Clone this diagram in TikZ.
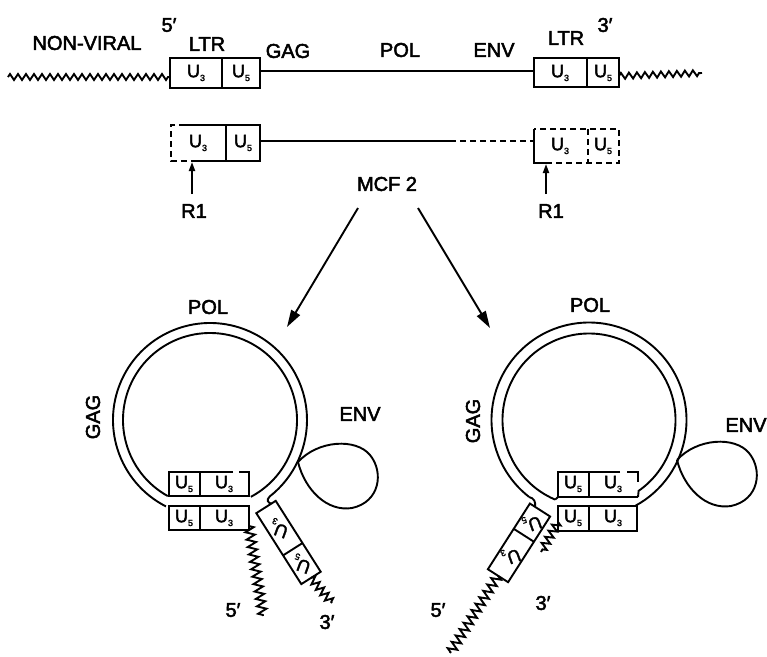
\documentclass[tikz,border=0pt]{standalone}
\usepackage{fontspec}
\setmainfont{Liberation Sans}
\newfontfamily\lblfont{Liberation Sans}[FakeBold=2.5]
\newfontfamily\ufont{Liberation Sans}[FakeBold=2]
\usetikzlibrary{decorations.pathmorphing,arrows.meta}
\newcommand\usub[1]{\raisebox{-0.4ex}{\fontsize{9}{9}\selectfont #1}}
\begin{document}
\begin{tikzpicture}[x=1pt,y=-1pt,line width=1.9pt,line join=miter,
  wavy/.style={decorate,decoration={zigzag,segment length=8pt,amplitude=3pt}},
  wavyb/.style={decorate,decoration={zigzag,segment length=7.5pt,amplitude=4.5pt}},
  big/.style={font=\lblfont\fontsize{20}{24}\selectfont,inner sep=0pt},
  ulab/.style={font=\ufont\fontsize{18}{20}\selectfont,inner sep=0pt},
  dsh/.style={dash pattern=on 6pt off 4pt},
  bigarrow/.style={-{Triangle[length=17pt,width=10pt]}},
  smallarrow/.style={-{Triangle[length=9pt,width=6pt]}}]
\useasboundingbox (0,0) rectangle (767,656);

% ---------- top row ----------
\node[big] (nonviral) at (87,43) {NON-VIRAL};
\node[big] (fivea) at (169,25) {5′};
\node[big] (ltra) at (207,44) {LTR};
\node[big] (gaga) at (288,51) {GAG};
\node[big] (pola) at (400,50) {POL};
\node[big] (enva) at (494,50) {ENV};
\node[big] (ltrb) at (566,38) {LTR};
\node[big] (threea) at (605,25) {3′};

\coordinate (wl0) at (8,77); \coordinate (wl1) at (170,77);
\draw[wavy] (wl0) -- (wl1);
\draw (170,58) rectangle (260,88); \draw (222,58) -- (222,88);
\node[ulab] (ta3) at (196,73) {U\usub{3}};
\node[ulab] (ta5) at (241,73) {U\usub{5}};
\coordinate (la) at (260,71); \coordinate (lb) at (534,71);
\draw (la) -- (lb);
\draw (534,58) rectangle (619,87); \draw (587,58) -- (587,87);
\node[ulab] (tb3) at (560,73) {U\usub{3}};
\node[ulab] (tb5) at (603,73) {U\usub{5}};
\coordinate (wr0) at (619,76); \coordinate (wr1) at (702,73);
\draw[wavy] (wr0) -- (wr1);

% ---------- second row ----------
\draw (185,125) -- (260,125) -- (260,161) -- (191,161);
\draw[dsh] (185,125) -- (171,125) -- (171,161) -- (191,161);
\draw (226,125) -- (226,161);
\node[ulab] (sa3) at (198,143) {U\usub{3}};
\node[ulab] (sa5) at (243,143) {U\usub{5}};
\coordinate (ma) at (260,141); \coordinate (mb) at (450,141); \coordinate (mc) at (534,141);
\draw (ma) -- (mb);
\draw[dsh] (mb) -- (mc);
\draw (534,129) -- (534,163) -- (546,163);
\draw[dsh] (546,163) -- (619,163) -- (619,129) -- (534,129);
\draw[dsh] (588,129) -- (588,163);
\node[ulab] (sb3) at (560,146) {U\usub{3}};
\node[ulab] (sb5) at (603,146) {U\usub{5}};

\node[big] (r1a) at (194,211) {R1};
\node[big] (r1b) at (551,211) {R1};
\coordinate (r1at) at (192,162);
\coordinate (r1bt) at (546,164);
\draw[smallarrow] ([yshift=9pt]r1a.north -| r1at) -- (r1at);
\draw[smallarrow] ([yshift=9pt]r1b.north -| r1bt) -- (r1bt);

\node[big] (mcf) at (387,184) {MCF 2};
\coordinate (a1s) at (358,208); \coordinate (a1e) at (287,327);
\coordinate (a2s) at (418,208); \coordinate (a2e) at (490,328);
\draw[bigarrow] (a1s) -- (a1e);
\draw[bigarrow] (a2s) -- (a2e);

% ---------- left circle ----------
\coordinate (c1) at (210,420);
\node[big] (polb) at (208,307) {POL};
\node[big,rotate=90] (gagb) at (93,417) {GAG};
\node[big] (envb) at (360,414) {ENV};
\node[big] (fiveb) at (233,610) {5′};
\node[big] (threeb) at (327,622) {3′};

\draw (c1) ++(119:87) arc[start angle=119,end angle=422,radius=87];
\draw (c1) ++(117:97) arc[start angle=117,end angle=412,radius=97]
  .. controls (266,500) and (268,503) .. (271.5,503.7);
% upper box (inner strand)
\draw (233,472) -- (169,472) -- (169,496) -- (249,496) -- (249,472) -- (239,472);
\draw (200,472) -- (200,496);
\node[ulab] (ua5) at (184,484) {U\usub{5}};
\node[ulab] (ua3) at (224,484) {U\usub{3}};
% lower box
\draw (169,506) rectangle (249,530); \draw (200,506) -- (200,530);
\node[ulab] (va5) at (184,518) {U\usub{5}};
\node[ulab] (va3) at (224,518) {U\usub{3}};
\coordinate (t5a) at (249,526); \coordinate (t5b) at (263,616);
\draw[wavyb] (t5a) -- (t5b);
% rotated box
\begin{scope}[shift={(266,507)},rotate=-57.6]
  \draw (0,-11.5) rectangle (84,11.5);
  \draw (50,-11.5) -- (50,11.5);
  \node[ulab,rotate=160] (ra3) at (25,0) {U\usub{3}};
  \node[ulab,rotate=160] (ra5) at (67,0) {U\usub{5}};
  \coordinate (raend) at (84,0);
\end{scope}
\coordinate (t3a) at (332,603);
\draw[decorate,decoration={zigzag,segment length=7pt,amplitude=4pt}] (raend) -- (t3a);
% ENV loop
\draw (298,462) .. controls (318,440) and (356,438) .. (370,455)
  .. controls (384,472) and (380,502) .. (352,508)
  .. controls (327,512) and (305,490) .. (298,462);

% ---------- right circle ----------
\coordinate (c2) at (589,420);
\node[big] (polc) at (590,305) {POL};
\node[big,rotate=90] (gagc) at (473,421) {GAG};
\node[big] (envc) at (746,425) {ENV};
\node[big] (fivec) at (438,610) {5′};
\node[big] (threec) at (543,603) {3′};

\draw (c2) ++(113:86.5) arc[start angle=113,end angle=415,radius=86.5] -- (638,497);
\draw (558,497) -- ++(-2.8,2.6);
\draw (c2) ++(128:97.5) arc[start angle=128,end angle=421.5,radius=97.5];
\draw (529,497) .. controls (534,498) and (536,502) .. (535,506.8);
% upper box
\draw (620,472) -- (558,472) -- (558,497) -- (638,497);
\draw (627,472) -- (638,472) -- (638,482);
\draw (589,472) -- (589,497);
\node[ulab] (uc5) at (573,484) {U\usub{5}};
\node[ulab] (uc3) at (613,484) {U\usub{3}};
% lower box
\draw (558,506) rectangle (637,531); \draw (589,506) -- (589,531);
\node[ulab] (vc5) at (573,518) {U\usub{5}};
\node[ulab] (vc3) at (613,518) {U\usub{3}};
\coordinate (t3c) at (558,522); \coordinate (t3d) at (541,552);
\draw[decorate,decoration={zigzag,segment length=7pt,amplitude=4pt}] (t3c) -- (t3d);
% rotated box
\begin{scope}[shift={(540,510)},rotate=-122.6]
  \draw (0,-12) rectangle (78,12);
  \draw (30,-12) -- (30,12);
  \node[ulab,rotate=200] (rc5) at (15,0) {U\usub{5}};
  \node[ulab,rotate=200] (rc3) at (54,0) {U\usub{3}};
  \coordinate (rcend) at (78,0);
\end{scope}
\coordinate (t5c) at (450,653);
\draw[wavyb] (rcend) -- (t5c);
% ENV loop
\draw (677,460) .. controls (697,438) and (735,436) .. (749,453)
  .. controls (763,470) and (759,500) .. (731,506)
  .. controls (706,510) and (684,488) .. (677,460);
\end{tikzpicture}
\end{document}
